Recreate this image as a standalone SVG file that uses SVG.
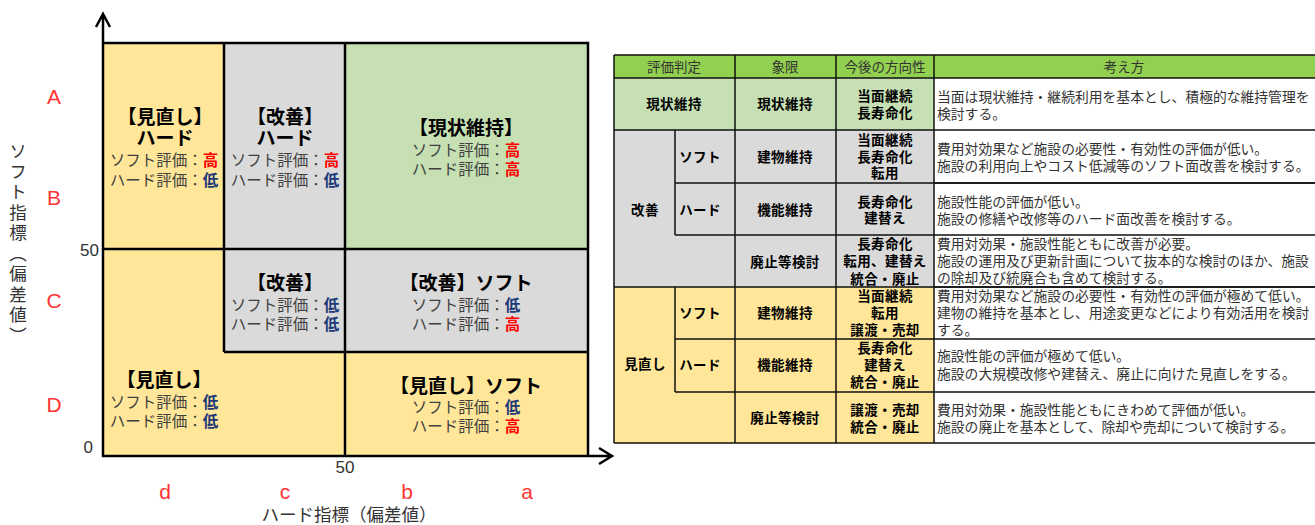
<svg xmlns="http://www.w3.org/2000/svg" width="1315" height="525" viewBox="0 0 1315 525">
<style>
.j{font-family:"Noto Sans CJK JP","Noto Sans",sans-serif}
.ttl{font-size:19px;font-weight:bold;fill:#000;text-anchor:middle}
.ev{font-size:15.5px;fill:#404040;text-anchor:middle}
.hi{fill:#ff0000;font-weight:bold}
.lo{fill:#1f3a78;font-weight:bold}
.lbl{font-family:"Liberation Sans",Arial,sans-serif;font-size:21px;fill:#ff3333;text-anchor:middle}
.num{font-family:"Liberation Sans",Arial,sans-serif;font-size:17px;fill:#333}
.ax{font-size:17.5px;fill:#333}
.th{font-size:13.5px;fill:#333;text-anchor:middle}
.tb{font-size:13.5px;font-weight:bold;fill:#000;text-anchor:middle;letter-spacing:0.4px}
.td{font-size:13.8px;fill:#333}
.yl{fill:#ffe699}.gy{fill:#dadada}.gn{fill:#c6e0b4}.wh{fill:#fff}.hd{fill:#92d050}
.ln{stroke:#000;stroke-width:2.5;fill:none}
.tl{stroke:#111;stroke-width:1.5;fill:none}
</style>

<g id="chart">
<g id="q-minaoshi-hard">
<rect class="yl" x="103" y="43" width="121" height="206"/>
<text class="j ttl" x="165" y="124">【見直し】</text>
<text class="j ttl" x="165" y="145">ハード</text>
<text class="j ev" x="164" y="166">ソフト評価：<tspan class="hi">高</tspan></text>
<text class="j ev" x="164" y="186">ハード評価：<tspan class="lo">低</tspan></text>
</g>
<g id="q-kaizen-hard">
<rect class="gy" x="224" y="43" width="121" height="206"/>
<text class="j ttl" x="285" y="124">【改善】</text>
<text class="j ttl" x="285" y="145">ハード</text>
<text class="j ev" x="285" y="166">ソフト評価：<tspan class="hi">高</tspan></text>
<text class="j ev" x="285" y="186">ハード評価：<tspan class="lo">低</tspan></text>
</g>
<g id="q-genjo">
<rect class="gn" x="345" y="43" width="243" height="206"/>
<text class="j ttl" x="466" y="135">【現状維持】</text>
<text class="j ev" x="466" y="156">ソフト評価：<tspan class="hi">高</tspan></text>
<text class="j ev" x="466" y="175">ハード評価：<tspan class="hi">高</tspan></text>
</g>
<g id="q-minaoshi">
<polygon class="yl" points="103,249 224,249 224,352 345,352 345,456 103,456"/>
<text class="j ttl" x="164" y="387">【見直し】</text>
<text class="j ev" x="164" y="408">ソフト評価：<tspan class="lo">低</tspan></text>
<text class="j ev" x="164" y="427">ハード評価：<tspan class="lo">低</tspan></text>
</g>
<g id="q-kaizen">
<rect class="gy" x="224" y="249" width="121" height="103"/>
<text class="j ttl" x="285" y="290">【改善】</text>
<text class="j ev" x="285" y="311">ソフト評価：<tspan class="lo">低</tspan></text>
<text class="j ev" x="285" y="330">ハード評価：<tspan class="lo">低</tspan></text>
</g>
<g id="q-kaizen-soft">
<rect class="gy" x="345" y="249" width="243" height="103"/>
<text class="j ttl" x="466" y="290">【改善】ソフト</text>
<text class="j ev" x="466" y="311">ソフト評価：<tspan class="lo">低</tspan></text>
<text class="j ev" x="466" y="330">ハード評価：<tspan class="hi">高</tspan></text>
</g>
<g id="q-minaoshi-soft">
<rect class="yl" x="345" y="352" width="243" height="104"/>
<text class="j ttl" x="466" y="393">【見直し】ソフト</text>
<text class="j ev" x="466" y="413">ソフト評価：<tspan class="lo">低</tspan></text>
<text class="j ev" x="466" y="432">ハード評価：<tspan class="hi">高</tspan></text>
</g>
</g>

<g id="connectors">
<path class="ln" d="M103,43 H588 V456 M224,43 V352 M345,43 V456 M103,249 H588 M224,352 H588"/>
<path class="ln" stroke-width="3" d="M103,457 V15 M96,27 L103,14 L110,27"/>
<path class="ln" stroke-width="3" d="M102,456 H611 M599,448 L612,456 L599,464"/>
</g>

<g id="axis-labels">
<text class="lbl" x="54" y="104">A</text>
<text class="lbl" x="54" y="205">B</text>
<text class="lbl" x="54" y="308">C</text>
<text class="lbl" x="54" y="412">D</text>
<text class="lbl" x="165" y="499">d</text>
<text class="lbl" x="285" y="499">c</text>
<text class="lbl" x="407" y="499">b</text>
<text class="lbl" x="527" y="499">a</text>
<text class="num" x="99" y="256" text-anchor="end">50</text>
<text class="num" x="93" y="453" text-anchor="end">0</text>
<text class="num" x="345" y="473" text-anchor="middle">50</text>
<text class="j ax" x="349" y="521" text-anchor="middle">ハード指標（偏差値）</text>
<text class="j ax" x="18" y="142" font-size="18" letter-spacing="3" style="writing-mode:vertical-rl">ソフト指標（偏差値）</text>
</g>

<g id="table">
<g id="tbl-bg">
<rect class="hd" x="614" y="55" width="701" height="23"/>
<rect class="gn" x="614" y="78" width="320" height="52"/>
<rect class="gy" x="614" y="130" width="320" height="157"/>
<rect class="yl" x="614" y="287" width="320" height="156"/>
<rect class="wh" x="934" y="78" width="381" height="365"/>
</g>
<g id="tbl-lines">
<path class="tl" d="M614,55 H1315 M614,78 H1315 M614,130 H1315 M614,287 H1315 M614,443 H1315"/>
<path class="tl" d="M675,183 H1315 M675,235 H1315 M675,339 H1315 M675,392 H1315"/>
<path class="tl" d="M614,55 V443 M735,55 V443 M836,55 V443 M934,55 V443 M675,130 V235 M675,287 V392"/>
<path class="tl" stroke-width="2" d="M934,183 H1315 M934,287 H1315"/>
</g>
<g id="tbl-header">
<text class="j th" x="674" y="72">評価判定</text>
<text class="j th" x="785" y="72">象限</text>
<text class="j th" x="885" y="72">今後の方向性</text>
<text class="j th" x="1124" y="72">考え方</text>
</g>
<g id="row-genjo">
<text class="j tb" x="674" y="109">現状維持</text>
<text class="j tb" x="785" y="109">現状維持</text>
<text class="j tb" x="885" y="101">当面継続</text>
<text class="j tb" x="885" y="118">長寿命化</text>
<text class="j td" x="937" y="102">当面は現状維持・継続利用を基本とし、積極的な維持管理を</text>
<text class="j td" x="937" y="119">検討する。</text>
</g>
<g id="row-kaizen">
<text class="j tb" x="645" y="215">改善</text>
<text class="j tb" x="700" y="162">ソフト</text>
<text class="j tb" x="785" y="162">建物維持</text>
<text class="j tb" x="885" y="145">当面継続</text>
<text class="j tb" x="885" y="162">長寿命化</text>
<text class="j tb" x="885" y="178">転用</text>
<text class="j td" x="937" y="154">費用対効果など施設の必要性・有効性の評価が低い。</text>
<text class="j td" x="937" y="171">施設の利用向上やコスト低減等のソフト面改善を検討する。</text>
<text class="j tb" x="700" y="215">ハード</text>
<text class="j tb" x="785" y="215">機能維持</text>
<text class="j tb" x="885" y="207">長寿命化</text>
<text class="j tb" x="885" y="223">建替え</text>
<text class="j td" x="937" y="207">施設性能の評価が低い。</text>
<text class="j td" x="937" y="224">施設の修繕や改修等のハード面改善を検討する。</text>
<text class="j tb" x="785" y="267">廃止等検討</text>
<text class="j tb" x="885" y="249">長寿命化</text>
<text class="j tb" x="885" y="266">転用、建替え</text>
<text class="j tb" x="885" y="284">統合・廃止</text>
<text class="j td" x="937" y="249">費用対効果・施設性能ともに改善が必要。</text>
<text class="j td" x="937" y="266">施設の運用及び更新計画について抜本的な検討のほか、施設</text>
<text class="j td" x="937" y="283">の除却及び統廃合も含めて検討する。</text>
</g>
<g id="row-minaoshi">
<text class="j tb" x="645" y="369">見直し</text>
<text class="j tb" x="700" y="318">ソフト</text>
<text class="j tb" x="785" y="318">建物維持</text>
<text class="j tb" x="885" y="301">当面継続</text>
<text class="j tb" x="885" y="318">転用</text>
<text class="j tb" x="885" y="335">譲渡・売却</text>
<text class="j td" x="937" y="301">費用対効果など施設の必要性・有効性の評価が極めて低い。</text>
<text class="j td" x="937" y="318">建物の維持を基本とし、用途変更などにより有効活用を検討</text>
<text class="j td" x="937" y="335">する。</text>
<text class="j tb" x="700" y="370">ハード</text>
<text class="j tb" x="785" y="370">機能維持</text>
<text class="j tb" x="885" y="353">長寿命化</text>
<text class="j tb" x="885" y="370">建替え</text>
<text class="j tb" x="885" y="387">統合・廃止</text>
<text class="j td" x="937" y="361">施設性能の評価が極めて低い。</text>
<text class="j td" x="937" y="379">施設の大規模改修や建替え、廃止に向けた見直しをする。</text>
<text class="j tb" x="785" y="423">廃止等検討</text>
<text class="j tb" x="885" y="415">譲渡・売却</text>
<text class="j tb" x="885" y="432">統合・廃止</text>
<text class="j td" x="937" y="415">費用対効果・施設性能ともにきわめて評価が低い。</text>
<text class="j td" x="937" y="432">施設の廃止を基本として、除却や売却について検討する。</text>
</g>
</g>
</svg>
